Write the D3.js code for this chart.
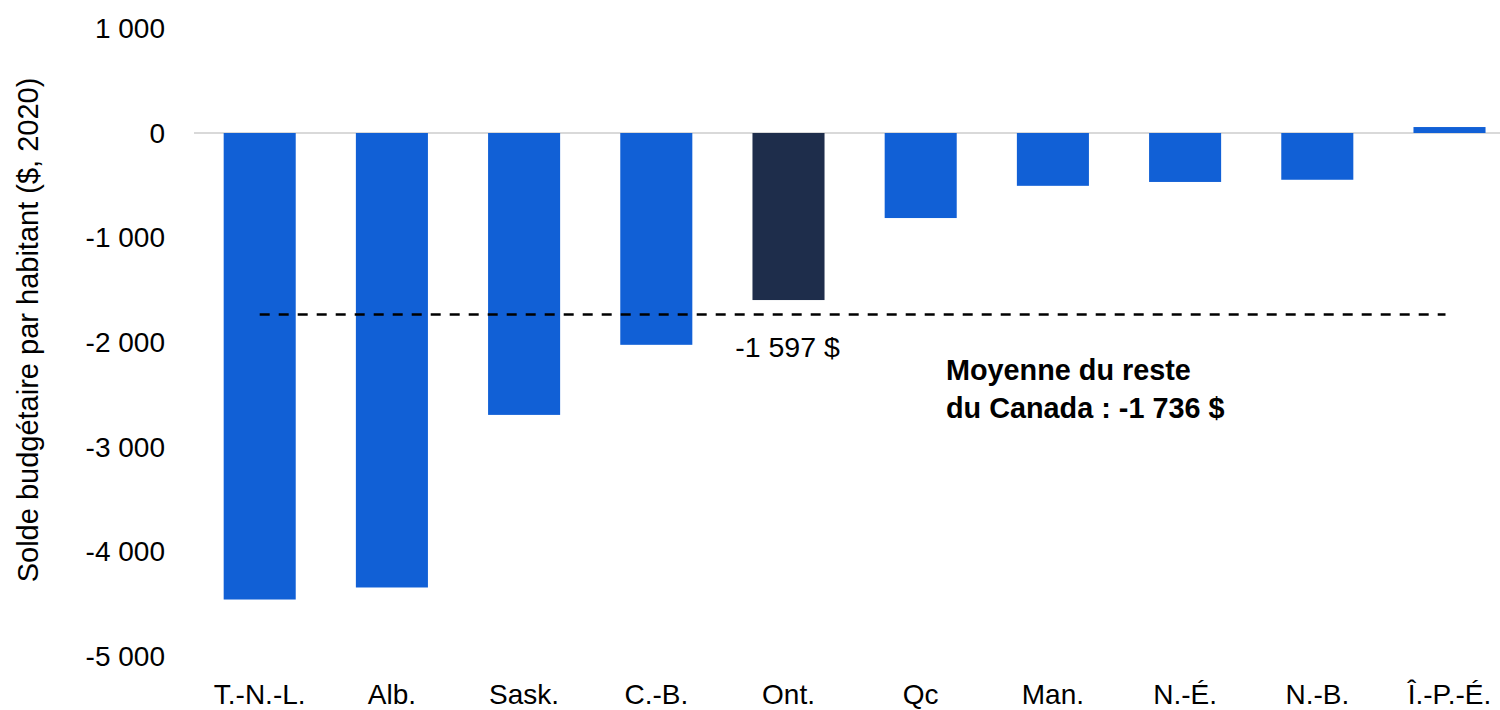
<!DOCTYPE html>
<html><head><meta charset="utf-8">
<script src="https://cdn.jsdelivr.net/npm/d3@7"></script>
<style>body{margin:0;background:#fff}svg{display:block}text{font-family:"Liberation Sans",Arial,sans-serif;fill:#000}</style>
</head><body><svg id="c" width="1500" height="710"></svg>
<script>
const categories = ["T.-N.-L.","Alb.","Sask.","C.-B.","Ont.","Qc","Man.","N.-É.","N.-B.","Î.-P.-É."];
const values = [-4460, -4345, -2695, -2025, -1597, -813, -505, -468, -447, 57];
const highlight = "Ont.";
const average = -1736;
const yTicks = [1000, 0, -1000, -2000, -3000, -4000, -5000];
const yTitle = "Solde budgétaire par habitant ($, 2020)";
const ontLabel = "-1 597 $";
const avgLabel = ["Moyenne du reste", "du Canada : -1 736 $"];

const svg = d3.select("#c");
const x = d3.scaleBand().domain(categories).range([193.6, 1515.6]).paddingInner(0.455).paddingOuter(0.2275);
const y = d3.scaleLinear().domain([-5000, 1000]).range([656, 28.4]);
const loc = d3.formatLocale({decimal: ",", thousands: "\u00a0", grouping: [3], currency: ["", " $"]});
const fmt = loc.format(",d");

// zero line
svg.append("line").attr("x1", 194).attr("x2", 1500).attr("y1", y(0)).attr("y2", y(0))
  .attr("stroke", "#d9d9d9").attr("stroke-width", 2);

// bars
svg.selectAll("rect.bar").data(categories).join("rect").attr("class", "bar")
  .attr("x", d => x(d)).attr("width", x.bandwidth())
  .attr("y", (d, i) => y(Math.max(0, values[i])))
  .attr("height", (d, i) => Math.abs(y(values[i]) - y(0)))
  .attr("fill", d => d === highlight ? "#1e2d4b" : "#1160d6");

// y axis labels
svg.selectAll("text.yt").data(yTicks).join("text").attr("class", "yt")
  .attr("x", 165).attr("y", d => y(d)).attr("dy", "0.35em")
  .attr("text-anchor", "end").attr("font-size", 28).text(d => fmt(d).replace("−", "-"));

// x labels
svg.selectAll("text.xt").data(categories).join("text").attr("class", "xt")
  .attr("x", d => x(d) + x.bandwidth() / 2).attr("y", 704)
  .attr("text-anchor", "middle").attr("font-size", 28).text(d => d);

// y title
svg.append("text").attr("transform", `translate(38,330) rotate(-90)`)
  .attr("text-anchor", "middle").attr("font-size", 29).text(yTitle);

// average dashed line
const xFirst = x(categories[0]) + x.bandwidth() / 2;
const xLast = x(categories[categories.length - 1]) + x.bandwidth() / 2 - 4;
svg.append("line").attr("x1", xFirst).attr("x2", xLast).attr("y1", y(average)).attr("y2", y(average))
  .attr("stroke", "#000").attr("stroke-width", 2.5).attr("stroke-dasharray", "10,9");

// Ont label
svg.append("text").attr("x", x(highlight) + x.bandwidth() / 2 - 1).attr("y", 357)
  .attr("text-anchor", "middle").attr("font-size", 28.5).text(ontLabel);

// average label
const al = svg.append("text").attr("x", 946).attr("y", 380).attr("font-size", 28.8).attr("font-weight", "bold");
al.selectAll("tspan").data(avgLabel).join("tspan").attr("x", 946).attr("dy", (d, i) => i ? 38 : 0).text(d => d);
</script></body></html>
